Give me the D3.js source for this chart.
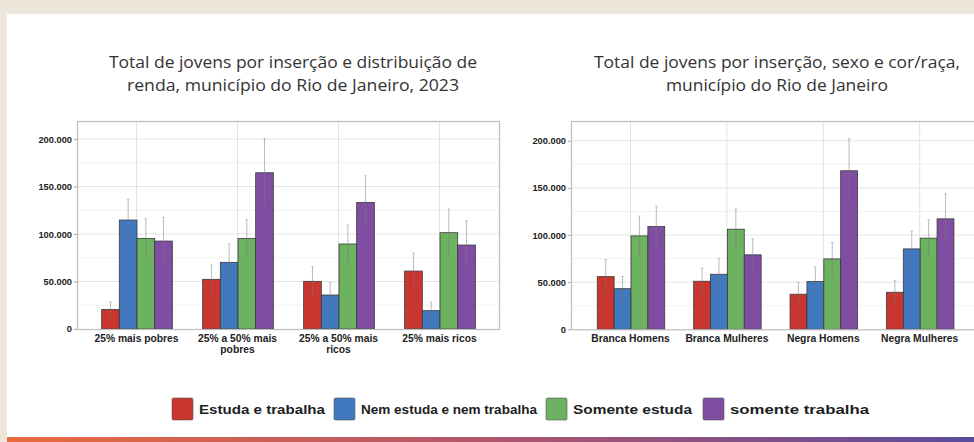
<!DOCTYPE html>
<html><head><meta charset="utf-8">
<script src="https://cdn.jsdelivr.net/npm/d3@7"></script>
<style>
html,body{margin:0;padding:0;background:#ede6da;}
svg{display:block;}
</style></head>
<body>
<svg id="chart" width="974" height="442"></svg>
<script>
// ---------- DATA ----------
const series = ["Estuda e trabalha", "Nem estuda e nem trabalha", "Somente estuda", "somente trabalha"];
const seriesColors = ["#c9362f", "#4278be", "#6cb260", "#7f4ea2"];

const rendaCategories = ["25% mais pobres", "25% a 50% mais pobres", "25% a 50% mais ricos", "25% mais ricos"];
const rendaEstudaTrabalha   = [20500, 52300, 50200, 61000];
const rendaNemEstudaNemTrab = [114700, 70200, 35800, 19300];
const rendaSomenteEstuda    = [95400, 95400, 89500, 101400];
const rendaSomenteTrabalha  = [92600, 164500, 133300, 88400];
const rendaErrEstudaTrabalha   = [8000, 15000, 15500, 19000];
const rendaErrNemEstudaNemTrab = [22000, 19500, 13000, 9000];
const rendaErrSomenteEstuda    = [20500, 19500, 20000, 25000];
const rendaErrSomenteTrabalha  = [25000, 36000, 28000, 25500];

const corCategories = ["Branca Homens", "Branca Mulheres", "Negra Homens", "Negra Mulheres"];
const corEstudaTrabalha   = [55900, 51000, 37200, 39300];
const corNemEstudaNemTrab = [43100, 58400, 50600, 85300];
const corSomenteEstuda    = [99100, 106200, 74700, 96700];
const corSomenteTrabalha  = [109000, 79000, 168200, 117200];
const corErrEstudaTrabalha   = [18000, 14000, 12500, 12500];
const corErrNemEstudaNemTrab = [13000, 17000, 15500, 19000];
const corErrSomenteEstuda    = [21000, 21500, 17500, 19500];
const corErrSomenteTrabalha  = [21500, 17000, 34000, 26500];

const yTicks = [0, 50000, 100000, 150000, 200000];
const yMinorTicks = [25000, 75000, 125000, 175000];

const titleRenda = ["Total de jovens por inserção e distribuição de", "renda, município do Rio de Janeiro, 2023"];
const titleCor = ["Total de jovens por inserção, sexo e cor/raça,", "município do Rio de Janeiro"];
const rendaLabelLines = [["25% mais pobres"], ["25% a 50% mais", "pobres"], ["25% a 50% mais", "ricos"], ["25% mais ricos"]];
const corLabelLines = [["Branca Homens"], ["Branca Mulheres"], ["Negra Homens"], ["Negra Mulheres"]];

// ---------- SETUP ----------
const svg = d3.select("#chart");
const fmt = d3.formatLocale({decimal: ",", thousands: ".", grouping: [3], currency: ["R$", ""]}).format(",d");

const defs = svg.append("defs");
const grad = defs.append("linearGradient").attr("id", "bottomGrad").attr("x1", "0").attr("x2", "1").attr("y1", "0").attr("y2", "0");
grad.append("stop").attr("offset", "0").attr("stop-color", "#e96b3e");
grad.append("stop").attr("offset", "0.5").attr("stop-color", "#b0566d");
grad.append("stop").attr("offset", "1").attr("stop-color", "#5a4c9c");

svg.append("rect").attr("x", 0).attr("y", 0).attr("width", 974).attr("height", 442).attr("fill", "#ede6da");
svg.append("rect").attr("x", 7).attr("y", 14).attr("width", 967).attr("height", 428).attr("fill", "#ffffff");
svg.append("rect").attr("x", 7).attr("y", 437).attr("width", 967).attr("height", 5).attr("fill", "url(#bottomGrad)");

function drawChart(cfg) {
  const g = svg.append("g");
  const y = d3.scaleLinear().domain([0, cfg.yMax]).range([cfg.bottom, cfg.top]);
  const x0 = d3.scaleBand().domain(cfg.categories).range(cfg.xRange).paddingInner(0.3).paddingOuter(0.15);
  const x1 = d3.scaleBand().domain(series).range([0, x0.bandwidth()]).padding(0);

  g.selectAll(".minor").data(yMinorTicks).join("line")
    .attr("x1", cfg.frameLeft).attr("x2", cfg.frameRight)
    .attr("y1", d => y(d)).attr("y2", d => y(d))
    .attr("stroke", "#f2f2f2").attr("stroke-width", 1);
  g.selectAll(".major").data(yTicks.slice(1)).join("line")
    .attr("x1", cfg.frameLeft).attr("x2", cfg.frameRight)
    .attr("y1", d => y(d)).attr("y2", d => y(d))
    .attr("stroke", "#e4e4e4").attr("stroke-width", 1);
  g.selectAll(".vgrid").data(cfg.categories).join("line")
    .attr("x1", d => x0(d) + x0.bandwidth() / 2).attr("x2", d => x0(d) + x0.bandwidth() / 2)
    .attr("y1", cfg.top).attr("y2", cfg.bottom)
    .attr("stroke", "#e2e2e2").attr("stroke-width", 1);

  const rows = cfg.categories.map((c, i) => ({c, vals: series.map((s, j) => ({s, j, v: cfg.values[j][i], e: cfg.errors[j][i]}))}));
  const grp = g.selectAll(".grp").data(rows).join("g").attr("transform", d => `translate(${x0(d.c)},0)`);
  grp.selectAll("rect").data(d => d.vals).join("rect")
    .attr("x", d => x1(d.s) + 0.5).attr("width", x1.bandwidth())
    .attr("y", d => y(d.v)).attr("height", d => y(0) - y(d.v))
    .attr("fill", d => seriesColors[d.j]).attr("stroke", "#3a3a3a").attr("stroke-width", 0.8);
  grp.selectAll(".err").data(d => d.vals).join("line")
    .attr("x1", d => x1(d.s) + x1.bandwidth() / 2 + 0.5).attr("x2", d => x1(d.s) + x1.bandwidth() / 2 + 0.5)
    .attr("y1", d => y(d.v + d.e)).attr("y2", d => y(Math.max(0, d.v - d.e)))
    .attr("stroke", "#777").attr("stroke-opacity", 0.5).attr("stroke-width", 1);
  grp.selectAll(".cap").data(d => d.vals).join("line")
    .attr("x1", d => x1(d.s) + x1.bandwidth() / 2 - 1).attr("x2", d => x1(d.s) + x1.bandwidth() / 2 + 2)
    .attr("y1", d => y(d.v + d.e)).attr("y2", d => y(d.v + d.e))
    .attr("stroke", "#888").attr("stroke-opacity", 0.4).attr("stroke-width", 1);

  g.append("rect").attr("x", cfg.frameLeft + 0.5).attr("y", cfg.top + 0.5)
    .attr("width", cfg.frameRight - cfg.frameLeft - 1).attr("height", cfg.bottom - cfg.top)
    .attr("fill", "none").attr("stroke", "#bdbdbd").attr("stroke-width", 1.2);

  const yAxis = d3.axisLeft(y).tickValues(yTicks).tickFormat(fmt).tickSize(3).tickPadding(2);
  const ya = g.append("g").attr("transform", `translate(${cfg.frameLeft},0)`).call(yAxis);
  ya.select(".domain").remove();
  ya.selectAll(".tick line").attr("stroke", "#aaa");
  ya.selectAll("text").attr("font-family", "Liberation Sans, Arial, sans-serif").attr("font-size", 9.3)
    .attr("font-weight", "bold").attr("fill", "#222");

  const xl = g.selectAll(".xl").data(cfg.categories).join("text")
    .attr("x", d => x0(d) + x0.bandwidth() / 2).attr("y", cfg.bottom + 12.5)
    .attr("text-anchor", "middle")
    .attr("font-family", "Liberation Sans, Arial, sans-serif").attr("font-size", cfg.labelSize)
    .attr("font-weight", "bold").attr("fill", "#222");
  xl.each(function (d, i) {
    d3.select(this).selectAll("tspan").data(cfg.labelLines[i]).join("tspan")
      .attr("x", x0(d) + x0.bandwidth() / 2).attr("dy", (t, k) => k === 0 ? 0 : 11.5).text(t => t);
  });

  g.selectAll(".title").data(cfg.title).join("text")
    .attr("x", cfg.titleX).attr("y", (d, i) => 68 + i * 23)
    .attr("text-anchor", "middle")
    .attr("font-family", "Open Sans, Noto Sans, sans-serif").attr("font-size", 16)
    .attr("fill", "#333")
    .attr("textLength", (d, i) => cfg.titleLens[i]).attr("lengthAdjust", "spacingAndGlyphs")
    .text(d => d);
}

drawChart({
  categories: rendaCategories,
  values: [rendaEstudaTrabalha, rendaNemEstudaNemTrab, rendaSomenteEstuda, rendaSomenteTrabalha],
  errors: [rendaErrEstudaTrabalha, rendaErrNemEstudaNemTrab, rendaErrSomenteEstuda, rendaErrSomenteTrabalha],
  yMax: 219000, top: 121, bottom: 329, frameLeft: 77, frameRight: 500,
  xRange: [86, 490], labelLines: rendaLabelLines, labelSize: 10.3,
  title: titleRenda, titleX: 293, titleLens: [368, 332]
});

drawChart({
  categories: corCategories,
  values: [corEstudaTrabalha, corNemEstudaNemTrab, corSomenteEstuda, corSomenteTrabalha],
  errors: [corErrEstudaTrabalha, corErrNemEstudaNemTrab, corErrSomenteEstuda, corErrSomenteTrabalha],
  yMax: 221000, top: 121, bottom: 329.3, frameLeft: 571, frameRight: 982,
  xRange: [582.3, 967.9], labelLines: corLabelLines, labelSize: 10.3,
  title: titleCor, titleX: 777, titleLens: [366, 222]
});

// legend
const legendX = [172, 334, 546, 703];
const legendTextLen = [126, 176, 119, 139];
const legend = svg.append("g").selectAll("g").data(series).join("g")
  .attr("transform", (d, i) => `translate(${legendX[i]},398)`);
legend.append("rect").attr("width", 21).attr("height", 22).attr("rx", 1.5)
  .attr("fill", (d, i) => seriesColors[i]).attr("stroke", "#555").attr("stroke-width", 0.6);
legend.append("text").attr("x", 27).attr("y", 16)
  .attr("font-family", "Liberation Sans, Arial, sans-serif").attr("font-size", 13.5).attr("font-weight", "bold")
  .attr("fill", "#1e1e1e")
  .attr("textLength", (d, i) => legendTextLen[i]).attr("lengthAdjust", "spacingAndGlyphs")
  .text(d => d);
</script>
</body></html>
